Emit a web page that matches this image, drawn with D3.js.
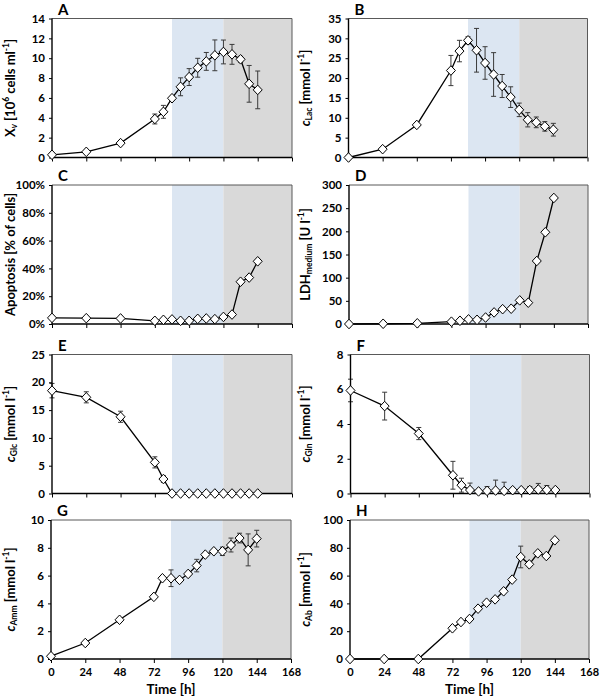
<!DOCTYPE html>
<html>
<head>
<meta charset="utf-8">
<script src="https://cdn.jsdelivr.net/npm/d3@7"></script>
<style>
  body { margin: 0; background: #fff; }
  svg { display: block; }
  text { font-family: Lato, "Open Sans", sans-serif; font-weight: bold; fill: #000; }
</style>
</head>
<body>
<svg id="chart"></svg>
<script>
// sampling times [h]
const hours = [0, 24, 48, 72, 78, 84, 90, 96, 102, 108, 114, 120, 126, 132, 138, 144];
const timeTicks = [0, 24, 48, 72, 96, 120, 144, 168];

// process phases (blue, grey)
const phaseNames = ["blue", "grey"];
const phaseStart = [84, 120];
const phaseEnd = [120, 168];

// A viable cells
const xvMean = [0.27, 0.57, 1.45, 3.88, 4.6, 5.97, 7.12, 8.1, 9.04, 9.68, 10.29, 10.63, 10.39, 9.89, 7.42, 6.81];
const xvSd = [0, 0, 0, 0.5, 0.65, 0.15, 0.9, 0.85, 0.95, 0.9, 1.55, 1.2, 1.0, 0.3, 1.85, 1.9];
// B lactate
const lacMean = [0, 2.1, 8.2, 21.9, 26.8, 29.5, 27.0, 23.8, 20.9, 18.0, 15.2, 12.0, 9.5, 8.85, 7.84, 7.0];
const lacSd = [0, 0, 0, 3.8, 2.7, 0.9, 5.5, 4.1, 5.5, 2.9, 2.6, 1.7, 1.8, 1.35, 1.2, 1.6];
// C apoptosis (fraction)
const apoMean = [0.044, 0.042, 0.040, 0.023, 0.030, 0.033, 0.023, 0.023, 0.037, 0.040, 0.035, 0.051, 0.068, 0.304, 0.334, 0.451];
const apoSd = [0, 0, 0, 0, 0, 0, 0, 0, 0, 0, 0, 0, 0, 0, 0, 0];
// D LDH
const ldhMean = [0, 0.5, 1.5, 5, 7, 10, 9, 14, 25, 32, 33, 51, 46, 136, 198, 272];
const ldhSd = [0, 0, 0, 0, 0, 0, 0, 0, 0, 0, 0, 0, 0, 0, 0, 0];
// E glucose
const glcMean = [18.5, 17.3, 13.8, 5.6, 2.6, 0, 0, 0, 0, 0, 0, 0, 0, 0, 0, 0];
const glcSd = [1.3, 1.0, 1.0, 1.0, 0.6, 0, 0, 0, 0, 0, 0, 0, 0, 0, 0, 0];
// F glutamine
const glnMean = [5.93, 5.03, 3.45, 1.05, 0.48, 0.2, 0.12, 0.15, 0.17, 0.15, 0.19, 0.19, 0.2, 0.23, 0.21, 0.2];
const glnSd = [0.65, 0.8, 0.35, 0.8, 0.4, 0.4, 0.1, 0.25, 0.6, 0.5, 0, 0, 0.2, 0.35, 0.25, 0];
// G ammonium
const ammMean = [0.2, 1.15, 2.82, 4.47, 5.81, 5.81, 5.69, 6.12, 6.72, 7.51, 7.75, 7.75, 8.2, 8.7, 7.85, 8.66];
const ammSd = [0, 0, 0, 0, 0, 0.6, 0, 0, 0.45, 0, 0, 0.3, 0.5, 0.35, 1.15, 0.6];
// H antibody
const abMean = [0, 0, 0, 22.1, 26.6, 28.8, 36.2, 40.5, 42.9, 48.7, 57.1, 73.4, 68.1, 76.0, 74.1, 85.4];
const abSd = [0, 0, 0, 0, 0, 0, 0, 0, 0, 0, 0, 7.8, 0, 0, 0, 0];

const W = 600, H = 698;
const svg = d3.select("#chart").attr("width", W).attr("height", H);

const plotWidth = [240, 239], plotH = 139;
const rowTop = [18.5, 185, 354.5, 520];
const colLeft = [[52, 348.5], [52, 349], [52, 350.5], [51, 350]];

// label parts: [text, mode] mode: n normal, i italic, sub, isub, sup
const panels = [
  { letter: "A", mean: xvMean, sd: xvSd, max: 14, step: 2, fmt: d3.format("d"),
    label: [["X", "n"], ["v", "isub"], [" [10", "n"], ["6", "sup"], [" cells ml", "n"], ["-1", "sup"], ["]", "n"]] },
  { letter: "B", mean: lacMean, sd: lacSd, max: 35, step: 5, fmt: d3.format("d"),
    label: [["c", "i"], ["Lac", "sub"], [" [mmol l", "n"], ["-1", "sup"], ["]", "n"]] },
  { letter: "C", mean: apoMean, sd: apoSd, max: 1, step: 0.2, fmt: d3.format(".0%"),
    label: [["Apoptosis [% of cells]", "n"]] },
  { letter: "D", mean: ldhMean, sd: ldhSd, max: 300, step: 50, fmt: d3.format("d"),
    label: [["LDH", "n"], ["medium", "sub"], [" [U l", "n"], ["-1", "sup"], ["]", "n"]] },
  { letter: "E", mean: glcMean, sd: glcSd, max: 25, step: 5, fmt: d3.format("d"),
    label: [["c", "i"], ["Glc", "sub"], [" [mmol l", "n"], ["-1", "sup"], ["]", "n"]] },
  { letter: "F", mean: glnMean, sd: glnSd, max: 8, step: 2, fmt: d3.format("d"),
    label: [["c", "i"], ["Gln", "sub"], [" [mmol l", "n"], ["-1", "sup"], ["]", "n"]] },
  { letter: "G", mean: ammMean, sd: ammSd, max: 10, step: 2, fmt: d3.format("d"),
    label: [["c", "i"], ["Amm", "sub"], [" [mmol l", "n"], ["-1", "sup"], ["]", "n"]] },
  { letter: "H", mean: abMean, sd: abSd, max: 100, step: 20, fmt: d3.format("d"),
    label: [["c", "i"], ["Ab", "sub"], [" [mmol l", "n"], ["-1", "sup"], ["]", "n"]] }
];

const diamond = "M0,-4.8L4.5,0L0,4.8L-4.5,0Z";
const phaseColor = { blue: "#dce6f2", grey: "#d9d9d9" };

panels.forEach((p, i) => {
  const row = Math.floor(i / 2), col = i % 2;
  const left = colLeft[row][col], top = rowTop[row];
  const plotW = plotWidth[col];
  const g = svg.append("g").attr("transform", `translate(${left},${top})`);

  const x = d3.scaleLinear().domain([0, 168]).range([0, plotW]);
  const y = d3.scaleLinear().domain([0, p.max]).range([plotH, 0]);

  // phase shading
  g.selectAll("rect.phase").data(phaseNames).enter().append("rect")
    .attr("class", "phase")
    .attr("x", (d, k) => x(phaseStart[k]))
    .attr("width", (d, k) => x(phaseEnd[k]) - x(phaseStart[k]))
    .attr("y", 0).attr("height", plotH)
    .attr("fill", d => phaseColor[d]);

  // frame top/right
  g.append("path").attr("d", `M0,0H${plotW}V${plotH}`)
    .attr("fill", "none").attr("stroke", "#595959").attr("stroke-width", 1);

  // axes
  const yTicks = d3.range(0, p.max + p.step / 2, p.step);
  const yAxis = d3.axisLeft(y).tickValues(yTicks).tickSize(3).tickPadding(4).tickFormat(p.fmt);
  const xAxis = d3.axisBottom(x).tickValues(timeTicks).tickSize(4).tickPadding(5)
    .tickFormat(row === 3 ? d3.format("d") : "");

  // error bars (behind axes)
  const eb = g.append("g").attr("stroke", "#3a3a3a").attr("stroke-width", 1);
  hours.forEach((h, k) => {
    if (!p.sd[k]) return;
    const cx = x(h);
    const y1 = y(Math.max(p.mean[k] - p.sd[k], 0));
    const y2 = y(Math.min(p.mean[k] + p.sd[k], p.max));
    eb.append("line").attr("x1", cx).attr("x2", cx).attr("y1", y1).attr("y2", y2);
    if (p.mean[k] - p.sd[k] > 0)
      eb.append("line").attr("x1", cx - 2.5).attr("x2", cx + 2.5).attr("y1", y1).attr("y2", y1);
    eb.append("line").attr("x1", cx - 2.5).attr("x2", cx + 2.5).attr("y1", y2).attr("y2", y2);
  });

  const ya = g.append("g").call(yAxis);
  const xa = g.append("g").attr("transform", `translate(0,${plotH})`).call(xAxis);
  [ya, xa].forEach(a => {
    a.select(".domain").attr("stroke", "#000").attr("stroke-width", 1.4);
    a.selectAll(".tick line").attr("stroke", "#000").attr("stroke-width", 1);
    a.selectAll("text").attr("font-size", 11.5).attr("font-family", "Lato, sans-serif").attr("font-weight", "bold");
  });
  xa.selectAll("text").attr("font-size", 11);
  xa.select(".domain").attr("d", `M0,0H${plotW}`);
  ya.select(".domain").attr("d", `M0,0V${plotH}`);

  // line
  const line = d3.line().x((d, k) => x(hours[k])).y(d => y(d));
  g.append("path").datum(p.mean).attr("d", line)
    .attr("fill", "none").attr("stroke", "#000").attr("stroke-width", 1.3);

  // markers
  g.selectAll("path.pt").data(p.mean).enter().append("path")
    .attr("class", "pt")
    .attr("d", diamond)
    .attr("transform", (d, k) => `translate(${x(hours[k])},${y(d)})`)
    .attr("fill", "#fff").attr("stroke", "#000").attr("stroke-width", 1);

  // panel letter
  g.append("text").attr("x", 6).attr("y", -4)
    .attr("font-family", "'Liberation Sans', Arial, sans-serif")
    .attr("font-size", 15).attr("font-weight", "bold").text(p.letter);

  // y label
  const lx = col === 0 ? 12 - left : 307 - left;
  const t = g.append("text")
    .attr("transform", `translate(${lx},${plotH / 2}) rotate(-90)`)
    .attr("text-anchor", "middle").attr("dominant-baseline", "middle")
    .attr("font-size", 13);
  let shift = 0;
  p.label.forEach(([s, m]) => {
    const sp = t.append("tspan").text(s);
    let target = 0;
    if (m === "i") sp.attr("font-style", "italic");
    if (m === "sub" || m === "isub") { sp.attr("font-size", 8.5); target = 3; }
    if (m === "isub") sp.attr("font-style", "italic");
    if (m === "sup") { sp.attr("font-size", 8.5); target = -5; }
    if (target !== shift) sp.attr("dy", target - shift);
    shift = target;
  });

  if (row === 3) {
    g.append("text").attr("x", plotW / 2).attr("y", plotH + 35)
      .attr("text-anchor", "middle").attr("font-size", 13.5).text("Time [h]");
  }
});
</script>
</body>
</html>
